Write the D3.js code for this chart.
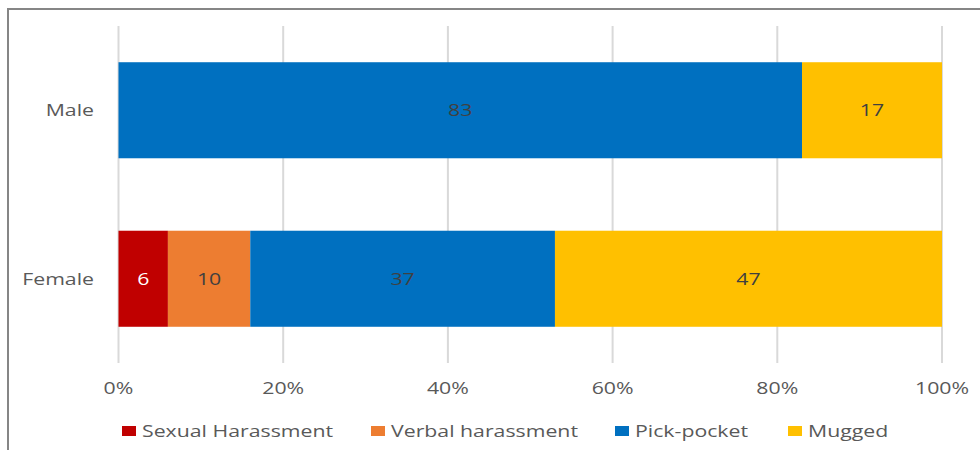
<!DOCTYPE html>
<html>
<head>
<meta charset="utf-8">
<script src="https://cdn.jsdelivr.net/npm/d3@7"></script>
<style>
  body { margin: 0; background: #fff; }
  svg { display: block; font-family: "Open Sans", sans-serif; }
</style>
</head>
<body>
<div id="chart"></div>
<script>
// data
var categories = ["Male", "Female"];
var seriesNames = ["Sexual Harassment", "Verbal harassment", "Pick-pocket", "Mugged"];
var sexualHarassment = [0, 6];
var verbalHarassment = [0, 10];
var pickPocket = [83, 37];
var mugged = [17, 47];
var tickValues = [0, 0.2, 0.4, 0.6, 0.8, 1];
var colors = ["#c00000", "#ed7d31", "#0070c0", "#ffc000"];
var labelColors = ["#ffffff", "#404040", "#404040", "#404040"];

var width = 980, height = 450;
var fontSize = "16.5px";
var stretch = 1.29; // the source picture is stretched sideways

var svg = d3.select("#chart").append("svg")
  .attr("width", width)
  .attr("height", height);

function place(sel, fx, fy) {
  return sel.attr("transform", function(d, i) {
    return "translate(" + fx(d, i) + "," + fy(d, i) + ") scale(" + stretch + ",1)";
  });
}

// outer frame of the chart area (runs off the picture at right & bottom)
svg.append("rect")
  .attr("x", 8).attr("y", 9)
  .attr("width", 1000).attr("height", 1000)
  .attr("fill", "none")
  .attr("stroke", "#868686")
  .attr("stroke-width", 2);

var rows = categories.map(function(c, i) {
  return { cat: c, vals: [sexualHarassment[i], verbalHarassment[i], pickPocket[i], mugged[i]] };
});

var x = d3.scaleLinear().domain([0, 1]).range([118.5, 942]);
var y = d3.scaleBand().domain(categories).range([26, 363]).paddingInner(0.43).paddingOuter(0.215);

// gridlines
svg.append("g").selectAll("line")
  .data(tickValues)
  .enter().append("line")
  .attr("x1", function(d) { return x(d); })
  .attr("x2", function(d) { return x(d); })
  .attr("y1", 26).attr("y2", 363)
  .attr("stroke", "#d9d9d9")
  .attr("stroke-width", 2);

// tick labels
place(svg.append("g").selectAll("text")
  .data(tickValues)
  .enter().append("text"),
  function(d) { return x(d); }, function() { return 394; })
  .attr("text-anchor", "middle")
  .attr("fill", "#595959")
  .style("font-size", fontSize)
  .text(d3.format(".0%"));

// category labels
place(svg.append("g").selectAll("text")
  .data(categories)
  .enter().append("text"),
  function() { return 94; }, function(d) { return y(d) + y.bandwidth() / 2 + 6; })
  .attr("text-anchor", "end")
  .attr("fill", "#595959")
  .style("font-size", fontSize)
  .text(function(d) { return d; });

// stacked segments
rows.forEach(function(r) {
  var total = d3.sum(r.vals);
  var acc = 0;
  r.vals.forEach(function(v, k) {
    if (v === 0) return;
    var x0 = acc / total, x1 = (acc + v) / total;
    acc += v;
    svg.append("rect")
      .attr("x", x(x0))
      .attr("y", y(r.cat))
      .attr("width", x(x1) - x(x0))
      .attr("height", y.bandwidth())
      .attr("fill", colors[k]);
    svg.append("text")
      .attr("transform", "translate(" + (x(x0) + x(x1)) / 2 + "," + (y(r.cat) + y.bandwidth() / 2 + 6) + ") scale(" + stretch + ",1)")
      .attr("text-anchor", "middle")
      .attr("fill", labelColors[k])
      .style("font-size", fontSize)
      .text(v);
  });
});

// legend
var legendX = [122, 371, 615, 788];
var legend = svg.append("g").selectAll("g")
  .data(seriesNames)
  .enter().append("g")
  .attr("transform", function(d, i) { return "translate(" + legendX[i] + ",426)"; });
legend.append("rect")
  .attr("width", 14).attr("height", 10)
  .attr("fill", function(d, i) { return colors[i]; });
legend.append("text")
  .attr("transform", "translate(20,10.5) scale(" + stretch + ",1)")
  .attr("fill", "#595959")
  .style("font-size", fontSize)
  .text(function(d) { return d; });
</script>
</body>
</html>
